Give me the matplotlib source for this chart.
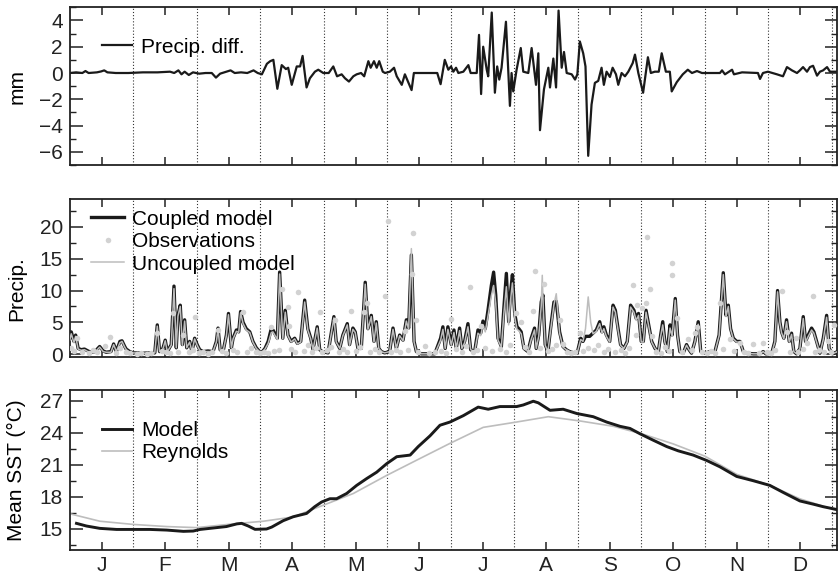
import numpy as np
import matplotlib
matplotlib.use('Agg')
import matplotlib.pyplot as plt
from matplotlib.ticker import MultipleLocator, FixedLocator

plt.rcParams['font.family'] = ['Liberation Sans', 'DejaVu Sans']
plt.rcParams['font.size'] = 15

# x axis in days, one "month" = 365/12 days
MONTH_DAYS = 365 / 12
months = ['J', 'F', 'M', 'A', 'M', 'J', 'J', 'A', 'S', 'O', 'N', 'D']

# (day, mm) - coupled minus uncoupled precipitation
precip_diff = [
    (0, 0.0), (3, 0.05), (6, 0.0), (7.5, 0.15), (9, 0.0), (13, 0.05), (15, 0.12), (16.5, 0.2), (18, 0.05),
    (22, 0.0), (28, 0.0), (35, 0.05), (42, 0.05), (48, 0.1), (50, 0.0), (52, 0.2), (53.5, -0.1), (55, 0.1),
    (57, -0.15), (59, 0.05), (62, -0.05), (65, 0.0), (68, 0.0), (70, -0.35), (72, -0.05), (75, 0.1), (77, 0.2),
    (79, 0.0), (82, 0.05), (85, 0.0), (88, 0.2), (90, 0.0), (92, -0.1),
    (94.4, 0.7), (96, 0.9), (97.5, 1.0), (99.4, -1.2), (101.5, 0.6), (103.5, 0.3), (104.6, 0.4), (106.3, -0.9),
    (108.7, 0.5), (110.3, 0.5), (111.5, 1.3), (113.4, -1.1), (115, -0.4), (117.4, 0.1), (119, 0.25), (121.4, 0.0),
    (124, 0.0), (126.2, 0.5), (128, -0.25), (130.2, -0.1), (131.8, -0.4), (133.7, -0.65), (135.8, -0.25),
    (137.4, -0.1), (139.5, 0.0), (141, -0.25), (143, 0.9), (144.1, 0.4), (145.7, 0.9), (147, 0.4), (148.2, 0.9),
    (149.9, 0.1), (151, 0.0), (153.3, 0.1), (155.3, 0.4), (156.6, -0.25), (159, -0.9), (160.5, -0.1),
    (163.7, -1.3), (164.8, 0.0), (170, 0.0), (176, 0.0), (177.6, -0.85), (179.6, 1.0), (181.3, 0.25),
    (182.6, 0.5), (183.7, 0.1), (185, 0.4), (186.1, 0.0), (188.5, 0.1), (190.9, 0.6), (192, 0.0), (194.9, 0.0),
    (196, 2.9), (197, -1.6), (198, 2.0), (199.7, 0.25), (200.4, -0.25), (202.1, 4.6), (203.6, -1.5),
    (204.7, 0.5), (205.7, -0.5), (206.8, 0.4), (208.9, 3.9), (210.8, -2.5), (211.6, 0.0), (212.4, -1.4),
    (214, 0.25), (216, 1.9), (217.2, 0.1), (219.6, 0.0), (221.2, 1.9), (223.3, -0.9), (224.4, 1.5),
    (225.2, -4.35), (227.1, -1.25), (229.2, 0.4), (230, -1.1), (231.6, 1.1), (232.9, -1.1), (234.1, 4.75),
    (235.6, 0.4), (236.7, 1.6), (238, 0.0), (240.4, -0.1), (242, -0.5), (243.1, -0.1), (244.3, 2.4),
    (245.9, 1.5), (247, 0.5), (248.3, -6.3), (249.9, -2.4), (251.5, -0.75), (253.1, -0.6), (254.7, 0.4),
    (255.8, -0.9), (257.1, 0.1), (258.7, -0.3), (260, 0.4), (261.6, -0.1), (262.7, -0.9), (264.3, 0.0),
    (265.9, -0.25), (267.5, 0.1), (269.6, 0.75), (270.7, 1.4), (272.3, 0.0), (274.6, -1.5), (276.9, 1.2),
    (278.3, 0.0), (280.2, 0.1), (282.1, 0.1), (283.5, 1.5), (285.5, 0.1), (287.4, 0.1), (288.3, -1.4),
    (290.7, -0.7), (293.6, -0.1), (296, 0.25), (298, 0.0), (300.4, 0.15), (302.8, 0.0), (306.6, 0.0),
    (311.4, 0.0), (312.4, 0.2), (313.8, -0.1), (317.2, 0.25), (318.1, -0.1), (322, 0.05), (329.6, 0.0),
    (330.6, -0.45), (332, 0.0), (334.4, 0.1), (338.7, -0.1), (341.6, -0.25), (343.5, 0.45), (345.9, 0.2),
    (348.3, 0.0), (349.7, 0.2), (351.2, 0.45), (353.1, 0.1), (354.5, 0.45), (356, 0.55), (357.9, -0.2),
    (359.3, 0.1), (360.8, 0.2), (362.7, 0.45), (364.1, 0.1), (367.7, 0.1),
]

# (day, precip)
coupled = [
    (0, 2.5), (0.7, 3.5), (2, 2.0), (2.8, 3.0), (4, 0.9), (5.5, 0.7), (7, 0.8), (8.7, 0.5), (10, 0.3), (12, 0.4),
    (14.3, 1.2), (16, 0.5), (17.4, 0.3), (19.7, 0.4), (21, 1.6), (22.3, 0.4), (24, 2.0), (25, 2.1), (26.3, 1.2),
    (27, 0.8), (28.7, 0.4), (30.3, 0.2), (35, 0.15), (40.7, 0.2), (41.9, 4.6), (43, 0.4), (44.6, 0.9),
    (45.7, 2.2), (46.7, 0.4), (48.6, 1.5), (49.9, 10.7), (51, 1.0), (51.8, 6.1), (52.9, 7.7), (53.9, 1.5),
    (55, 5.4), (56, 1.0), (57.4, 2.0), (58.5, 0.4), (59.8, 2.5), (61, 1.5), (62.2, 0.7), (63.8, 0.4),
    (66.2, 0.5), (68.6, 0.4), (70.2, 2.0), (71, 4.1), (72, 0.7), (73.4, 0.4), (75, 3.0), (76, 6.4), (77.4, 1.0),
    (78.2, 2.5), (79.8, 3.8), (80.9, 3.5), (81.8, 6.7), (83, 5.0), (84.5, 4.0), (86.2, 3.5), (87.7, 2.0),
    (89.3, 1.0), (90.9, 0.4), (92, 0.3),
    (93.5, 0.9), (95, 2.0), (96.5, 4.0), (97.3, 3.8), (99.4, 2.5), (100.5, 12.9), (102, 2.5), (103.2, 6.9),
    (104.5, 3.0), (106, 2.0), (107.7, 2.5), (109, 1.7), (110.6, 2.0), (112.5, 8.5), (114, 4.0), (115.4, 2.5),
    (116.5, 0.7), (118.5, 4.3), (119.7, 0.7), (121, 0.4), (123.7, 0.2), (126.5, 5.9), (127.6, 2.0),
    (129.3, 0.9), (130.8, 3.0), (132.9, 4.8), (134, 1.5), (135.6, 4.1), (136.7, 3.5), (138, 0.9), (139.6, 0.9),
    (141.5, 11.3), (142.8, 4.0), (144.4, 6.1), (145.7, 2.0), (146.8, 5.1), (148, 0.9), (149.2, 0.4),
    (150.8, 0.2), (153.2, 0.4), (154.8, 4.1), (156.4, 0.9), (158, 3.0), (159.6, 2.2), (161.2, 5.4),
    (162.3, 4.1), (163.6, 15.6), (164.9, 2.0), (166, 0.4), (168.3, 0.05), (171.6, 0.05), (174.8, 0.05),
    (177.6, 2.5), (178.7, 4.3), (179.8, 0.9), (181.1, 4.3), (182.7, 1.5), (184, 3.8), (185.1, 0.9),
    (186.7, 4.1), (187.8, 0.9), (189.1, 2.0), (190.7, 4.8), (192, 0.7), (193.9, 0.4), (195.5, 3.8),
    (196.8, 3.3), (197.9, 5.2), (199, 4.0), (200.3, 6.9), (201.9, 10.8), (203, 12.9), (204, 9.3), (205.1, 2.5),
    (206.7, 1.2), (207.9, 7.2), (209.1, 12.7), (210.2, 5.1), (211, 9.3), (212, 12.5), (213.1, 6.4),
    (214.2, 4.3), (215.1, 4.0), (216.2, 3.5), (217.5, 0.9), (219.4, 0.4), (221, 2.5), (222.6, 4.1),
    (223.4, 0.9), (224.6, 3.0), (225.8, 8.2), (226.6, 9.3), (227.7, 1.5), (229, 0.4), (230.3, 4.1),
    (231.9, 8.2), (233, 8.3), (234.6, 3.5), (236.2, 1.2), (237.8, 0.7), (239.4, 0.4), (241.8, 0.15),
    (243, 0.15), (244.7, 2.5), (245.8, 2.0), (247, 2.8), (249, 2.8), (250.6, 3.3), (252.2, 3.8), (253.8, 5.1),
    (254.9, 3.5), (255.8, 4.3), (257, 3.0), (258.6, 2.0), (260.2, 7.7), (261.3, 6.9), (262.6, 4.0),
    (263.8, 1.5), (265.4, 0.9), (267, 2.0), (268.6, 7.7), (270.2, 6.9), (271.3, 5.6), (272.4, 6.4),
    (273.7, 2.0), (274.7, 2.0), (276, 6.9), (277, 5.1), (278.7, 2.0), (280.3, 0.9), (281.9, 0.4), (283, 3.0),
    (284, 5.1), (285, 2.0), (286.2, 0.4), (287.5, 4.6), (288.5, 3.0), (290, 8.75), (291.1, 3.0), (292.2, 0.4),
    (293.8, 0.15), (295.4, 1.5), (296.6, 0.7), (297.8, 0.15), (299.4, 2.0), (301, 5.1), (302.2, 0.4),
    (304.2, 0.15), (306.6, 0.4), (309, 0.4), (311, 3.0), (313, 12.8), (314.3, 6.1), (315.4, 7.7), (316.5, 4.0),
    (317.8, 2.5), (319.4, 2.0), (321, 2.0), (322.6, 0.4), (324.2, 0.15), (327.4, 0.05), (330.6, 0.05),
    (332.1, 0.4), (333.4, 0.05), (336.2, 0.15), (337.7, 2.0), (339, 10.0), (340.1, 5.1), (340.9, 3.5),
    (342, 2.5), (343.3, 5.4), (344.6, 2.0), (345.7, 3.3), (346.8, 0.4), (348.1, 0.05), (349.7, 0.9),
    (351.3, 5.9), (352.4, 2.0), (353.7, 3.0), (355.3, 4.1), (356.4, 3.5), (357.7, 2.0), (359.3, 0.15),
    (360.9, 2.5), (362.5, 6.1), (363.7, 0.9), (365.3, 0.05), (367.7, 0.4),
]

uncoupled = [
    (0, 2.2), (0.7, 3.2), (2, 1.8), (2.8, 2.8), (4, 0.8), (5.5, 0.6), (7, 0.7), (8.7, 0.4), (10, 0.3), (12, 0.3),
    (14.3, 1.1), (16, 0.4), (17.4, 0.3), (19.7, 0.3), (21, 1.5), (22.3, 0.4), (24, 1.8), (25, 2.0), (26.3, 1.1),
    (27, 0.7), (28.7, 0.3), (30.3, 0.2), (35, 0.15), (40.7, 0.2), (41.9, 4.4), (43, 0.4), (44.6, 0.8),
    (45.7, 2.1), (46.7, 0.4), (48.6, 1.4), (49.9, 10.3), (51, 1.0), (51.8, 6.0), (52.9, 7.5), (53.9, 1.4),
    (55, 5.2), (56, 1.0), (57.4, 1.9), (58.5, 0.4), (59.8, 2.4), (61, 1.4), (62.2, 0.6), (63.8, 0.4),
    (66.2, 0.4), (68.6, 0.4), (70.2, 1.9), (71, 4.0), (72, 0.6), (73.4, 0.4), (75, 2.9), (76, 6.2), (77.4, 1.0),
    (78.2, 2.4), (79.8, 3.6), (80.9, 3.4), (81.8, 6.5), (83, 4.8), (84.5, 3.8), (86.2, 3.4), (87.7, 1.9),
    (89.3, 0.9), (90.9, 0.4), (92, 0.3),
    (93.5, 0.8), (95, 1.7), (96.5, 3.4), (97.3, 3.5), (99.4, 2.3), (100.5, 12.6), (102, 2.4), (103.2, 6.6),
    (104.5, 2.9), (106, 1.9), (107.7, 2.4), (109, 1.6), (110.6, 1.9), (112.5, 8.2), (114, 3.8), (115.4, 2.4),
    (116.5, 0.7), (118.5, 4.1), (119.7, 0.7), (121, 0.4), (123.7, 0.2), (126.5, 5.7), (127.6, 1.9),
    (129.3, 0.9), (130.8, 2.9), (132.9, 4.6), (134, 1.4), (135.6, 3.9), (136.7, 3.4), (138, 0.9), (139.6, 0.9),
    (141.5, 11.0), (142.8, 3.9), (144.4, 5.9), (145.7, 1.9), (146.8, 4.9), (148, 0.9), (149.2, 0.4),
    (150.8, 0.2), (153.2, 0.4), (154.8, 3.9), (156.4, 0.9), (158, 2.9), (159.6, 2.1), (161.2, 5.2),
    (162.3, 3.9), (163.6, 16.6), (164.9, 1.9), (166, 0.4), (168.3, 0.05), (171.6, 0.05), (174.8, 0.05),
    (177.6, 2.2), (178.7, 3.9), (179.8, 0.9), (181.1, 3.9), (182.7, 1.4), (184, 3.4), (185.1, 0.9),
    (186.7, 3.7), (187.8, 0.9), (189.1, 1.8), (190.7, 4.3), (192, 0.7), (193.9, 0.4), (195.5, 3.3),
    (196.8, 2.9), (197.9, 4.6), (199, 3.5), (200.3, 6.0), (201.9, 9.2), (203, 10.8), (204, 8.0), (205.1, 2.2),
    (206.7, 1.1), (207.9, 6.4), (209.1, 10.6), (210.2, 4.6), (211, 8.2), (212, 11.2), (213.1, 5.8),
    (214.2, 3.9), (215.1, 3.7), (216.2, 3.2), (217.5, 0.9), (219.4, 0.4), (221, 2.3), (222.6, 3.8),
    (223.4, 0.9), (224.6, 2.8), (225.8, 7.6), (226.3, 12.4), (226.8, 7.0), (227.7, 1.4), (229, 0.4),
    (230.3, 3.8), (231.9, 7.8), (233, 9.5), (234.6, 3.3), (236.2, 1.1), (237.8, 0.7), (239.4, 0.4),
    (241.8, 0.15), (243, 0.15), (244.7, 2.3), (245.8, 2.0), (247, 4.0), (248.3, 9.0), (249.5, 5.0),
    (250.6, 3.2), (252.2, 3.6), (253.8, 4.8), (254.9, 3.3), (255.8, 4.0), (257, 2.8), (258.6, 1.9),
    (260.2, 7.4), (261.3, 6.6), (262.6, 3.8), (263.8, 1.4), (265.4, 0.9), (267, 1.9), (268.6, 7.4),
    (270.2, 6.6), (271.3, 5.3), (272.4, 6.1), (273.7, 1.9), (274.7, 1.9), (276, 6.6), (277, 4.9), (278.7, 1.9),
    (280.3, 0.9), (281.9, 0.4), (283, 2.8), (284, 4.6), (285, 1.9), (286.2, 0.4), (287.5, 4.1), (288.5, 2.8),
    (290, 8.5), (291.1, 2.9), (292.2, 0.4), (293.8, 0.15), (295.4, 1.4), (296.6, 0.7), (297.8, 0.15),
    (299.4, 1.9), (301, 4.7), (302.2, 0.4), (304.2, 0.15), (306.6, 0.4), (309, 0.4), (311, 2.9), (313, 12.5),
    (314.3, 5.9), (315.4, 7.5), (316.5, 3.9), (317.8, 2.4), (319.4, 1.9), (321, 1.9), (322.6, 0.4),
    (324.2, 0.15), (327.4, 0.05), (330.6, 0.05), (332.1, 0.4), (333.4, 0.05), (336.2, 0.15), (337.7, 1.9),
    (339, 9.8), (340.1, 5.0), (340.9, 3.4), (342, 2.4), (343.3, 5.1), (344.6, 1.9), (345.7, 3.1), (346.8, 0.4),
    (348.1, 0.05), (349.7, 0.9), (351.3, 5.6), (352.4, 1.9), (353.7, 2.8), (355.3, 3.8), (356.4, 3.3),
    (357.7, 1.9), (359.3, 0.15), (360.9, 2.3), (362.5, 5.8), (363.7, 0.9), (365.3, 0.05), (367.7, 0.4),
]

observations = [
    (0.5, 1.0), (2, 0.5), (3.5, 2.5), (6, 0.3), (9, 0.2), (11, 0.6), (13, 0.3), (16.9, 1.3), (19.3, 2.75),
    (22, 0.2), (24, 0.9), (27, 0.4), (29, 0.2), (32, 0.1), (34, 0.2), (37, 0.1), (39, 0.2), (41.6, 3.3),
    (44, 0.5), (46, 0.3), (48, 0.2), (49.6, 6.4), (52, 0.4), (54, 3.0), (57, 0.3), (59, 0.6), (60, 5.9),
    (62, 0.2), (64, 0.4), (66, 0.1), (68, 0.3), (71, 3.8), (73, 0.5), (75, 0.2), (78, 0.6), (80, 0.3),
    (83, 6.7), (85, 0.4), (87, 1.0), (89, 0.3), (91, 0.2), (93, 0.4), (95, 0.2), (96.5, 4.3), (98, 0.5),
    (100, 0.6), (101.4, 10.3), (104.3, 7.4), (104.8, 4.5), (106, 0.8), (108, 0.3), (109.5, 9.8), (112, 0.5),
    (114, 1.5), (116, 0.4), (118, 0.9), (119.8, 6.7), (121, 0.3), (123, 0.6), (125, 1.2), (126.8, 5.4),
    (129, 0.3), (131, 0.8), (133, 0.4), (134.9, 6.8), (137, 0.5), (139, 1.2), (141, 6.7), (142.2, 8.0),
    (144, 0.4), (146, 0.8), (148, 0.3), (150.9, 9.2), (152.5, 21.0), (154, 0.3), (156, 0.6), (158, 0.4),
    (160.7, 3.6), (162, 0.6), (163.8, 12.6), (164.3, 19.0), (165.7, 5.4), (167, 0.3), (170, 1.35), (172, 0.2),
    (175, 0.3), (178, 0.5), (180, 0.2), (182.5, 5.6), (185, 0.8), (188, 0.3), (190, 1.3), (191.6, 10.6),
    (193, 0.4), (195, 0.6), (197, 4.5), (199, 1.0), (202, 0.5), (206, 0.8), (209, 0.3), (211, 1.5),
    (213.5, 6.4), (216, 5.0), (218, 1.2), (220, 0.4), (222, 6.8), (222.9, 13.1), (225, 0.9), (227.1, 11.0),
    (229, 0.5), (231, 0.8), (233, 1.5), (235, 5.4), (236, 1.6), (238, 0.4), (240, 0.2), (242, 0.3),
    (244.3, 3.3), (246, 0.5), (248, 1.0), (251, 0.6), (253, 1.5), (256, 0.4), (258, 0.8), (261, 0.3),
    (264, 0.6), (266, 0.2), (268, 1.0), (269.8, 10.8), (271, 3.0), (271.6, 7.7), (274, 7.2), (276, 8.1),
    (276.7, 18.5), (277.9, 10.2), (279, 2.9), (281, 0.4), (283, 0.2), (285, 1.2), (287, 0.5), (288.3, 12.5),
    (288.5, 14.3), (291, 5.7), (293, 0.3), (296, 2.4), (298, 0.6), (299.4, 3.3), (300.3, 4.3), (303, 0.3),
    (305, 0.2), (307, 0.5), (309, 0.2), (311.4, 8.0), (313, 0.8), (316, 2.4), (318, 0.5), (321, 1.7),
    (323, 0.3), (325, 0.2), (327, 1.6), (330, 0.2), (332, 1.7), (334, 0.3), (336, 0.2), (338, 0.7),
    (341, 10.0), (343.5, 3.5), (345, 0.4), (347.6, 2.5), (349, 0.3), (351, 0.8), (353, 1.7), (355.8, 9.2),
    (357, 0.4), (359, 0.7), (361, 0.3), (363, 2.0), (364.5, 0.3), (366, 4.6),
]

# (day, deg C)
sst_model = [
    (3.2, 15.5), (8, 15.25), (14.4, 15.03), (22.4, 14.93), (30.4, 14.93), (38.4, 14.93), (46.4, 14.87),
    (54.4, 14.75), (59.1, 14.78), (62.4, 14.93), (70.3, 15.1), (75, 15.2), (80, 15.45), (82.3, 15.5),
    (85.5, 15.25), (88.7, 14.94), (94.2, 14.97), (96.7, 15.15), (102.2, 15.75), (107, 16.12), (113.4, 16.43),
    (117.3, 17.06), (120.6, 17.5), (124.6, 17.81), (127.8, 17.81), (132.6, 18.3), (137.4, 19.06),
    (142.2, 19.7), (147, 20.3), (151.8, 21.1), (156.6, 21.75), (163, 21.9), (166.9, 22.7), (172.5, 23.7),
    (177.3, 24.7), (182.1, 25.0), (188.5, 25.6), (195.6, 26.4), (200.4, 26.2), (206, 26.45), (214, 26.45),
    (217.2, 26.6), (222, 26.95), (224.4, 26.8), (230, 26.1), (236.3, 26.2), (242.8, 25.8), (250.7, 25.5),
    (257.1, 25.0), (263.5, 24.6), (268.3, 24.4), (273.1, 23.9), (279.4, 23.3), (285.9, 22.7), (291.4, 22.3),
    (298.6, 21.9), (305, 21.4), (311.4, 20.8), (319.4, 19.9), (327.3, 19.5), (335.3, 19.06), (341.7, 18.4),
    (349.7, 17.6), (356.1, 17.3), (360.9, 17.06), (367.3, 16.8),
]

sst_reynolds = [
    (0, 16.4), (14.4, 15.7), (30.4, 15.4), (46.4, 15.2), (60.7, 15.1), (78.3, 15.45), (92.7, 15.7),
    (107, 16.1), (121.4, 17.2), (135.8, 18.3), (151.8, 20.0), (166.9, 21.5), (182.1, 23.0), (198, 24.5),
    (214, 25.0), (229.2, 25.5), (244.4, 25.1), (260.3, 24.6), (273.9, 23.9), (289, 22.95), (304.2, 21.8),
    (319.4, 20.1), (335.3, 19.06), (349.7, 17.8), (367.3, 16.7),
]


def split(pairs):
    a = np.array(pairs, dtype=float)
    return a[:, 0], a[:, 1]


def style_axes(ax, ylim, major, minor):
    ax.set_xlim(0, 367.7)
    ax.set_ylim(*ylim)
    ax.xaxis.set_major_locator(FixedLocator([(k + 0.5) * MONTH_DAYS for k in range(12)]))
    ax.yaxis.set_major_locator(MultipleLocator(major))
    ax.yaxis.set_minor_locator(MultipleLocator(minor))
    ax.tick_params(axis='x', which='major', direction='in', top=True, bottom=True,
                   length=6, width=1.1, pad=4, colors='#222222')
    ax.tick_params(axis='y', which='major', direction='in', left=True, right=True,
                   length=9, width=1.1, pad=5, colors='#222222')
    ax.tick_params(axis='y', which='minor', direction='in', left=True, right=True,
                   length=4.5, width=1.0, colors='#222222')
    for k in range(1, 13):
        ax.axvline(k * MONTH_DAYS, color='#333333', lw=0.8, ls=(0, (1, 1.8)), zorder=0.5)
    for s in ax.spines.values():
        s.set_linewidth(1.3)
        s.set_color('#222222')


fig = plt.figure(figsize=(8.39, 5.78), dpi=100)
ax1 = fig.add_axes([0.0832, 0.7145, 0.9150, 0.2729])
ax2 = fig.add_axes([0.0832, 0.3829, 0.9150, 0.2728])
ax3 = fig.add_axes([0.0832, 0.0484, 0.9150, 0.2768])

# Panel 1: precipitation difference
d, v = split(precip_diff)
ax1.plot(d, v, color='#1a1a1a', lw=1.6, label='Precip. diff.')
style_axes(ax1, (-7, 5), 2, 1)
ax1.set_xticklabels([])
ax1.set_ylabel('mm', va='center')
ax1.yaxis.set_label_coords(-0.069, 0.5)
ax1.legend(loc='center left', bbox_to_anchor=(0.0417, 0.747), frameon=False, borderpad=0,
           borderaxespad=0, handlelength=1.45, handletextpad=0.45)

# Panel 2: precipitation
d, v = split(coupled)
ax2.plot(d, v, color='#1a1a1a', lw=2.4, label='Coupled model', zorder=2)
d, v = split(observations)
ax2.plot(d, v, ls='none', marker='o', ms=4.0, mfc='#d2d2d2', mec='none',
         label='Observations', zorder=4)
d, v = split(uncoupled)
ax2.plot(d, v, color='#bdbdbd', lw=1.1, label='Uncoupled model', zorder=3)
style_axes(ax2, (-0.4, 24.4), 5, 2.5)
ax2.set_xticklabels([])
ax2.set_ylabel('Precip.', va='center')
ax2.yaxis.set_label_coords(-0.069, 0.43)
ax2.legend(loc='center left', bbox_to_anchor=(0.027, 0.729), frameon=False, borderpad=0,
           borderaxespad=0, handlelength=1.63, handletextpad=0.35, labelspacing=0.17, numpoints=1)

# Panel 3: SST
d, v = split(sst_model)
ax3.plot(d, v, color='#1a1a1a', lw=2.1, label='Model', zorder=3)
d, v = split(sst_reynolds)
ax3.plot(d, v, color='#bdbdbd', lw=1.2, label='Reynolds', zorder=2)
style_axes(ax3, (13, 28), 3, 1.5)
ax3.set_xticklabels(months)
ax3.set_ylabel('Mean SST (\u00b0C)', va='center')
ax3.yaxis.set_label_coords(-0.069, 0.5)
ax3.legend(loc='center left', bbox_to_anchor=(0.0417, 0.679), frameon=False, borderpad=0,
           borderaxespad=0, handlelength=1.45, handletextpad=0.45, labelspacing=0.15)

fig.savefig('out.png', dpi=100)
